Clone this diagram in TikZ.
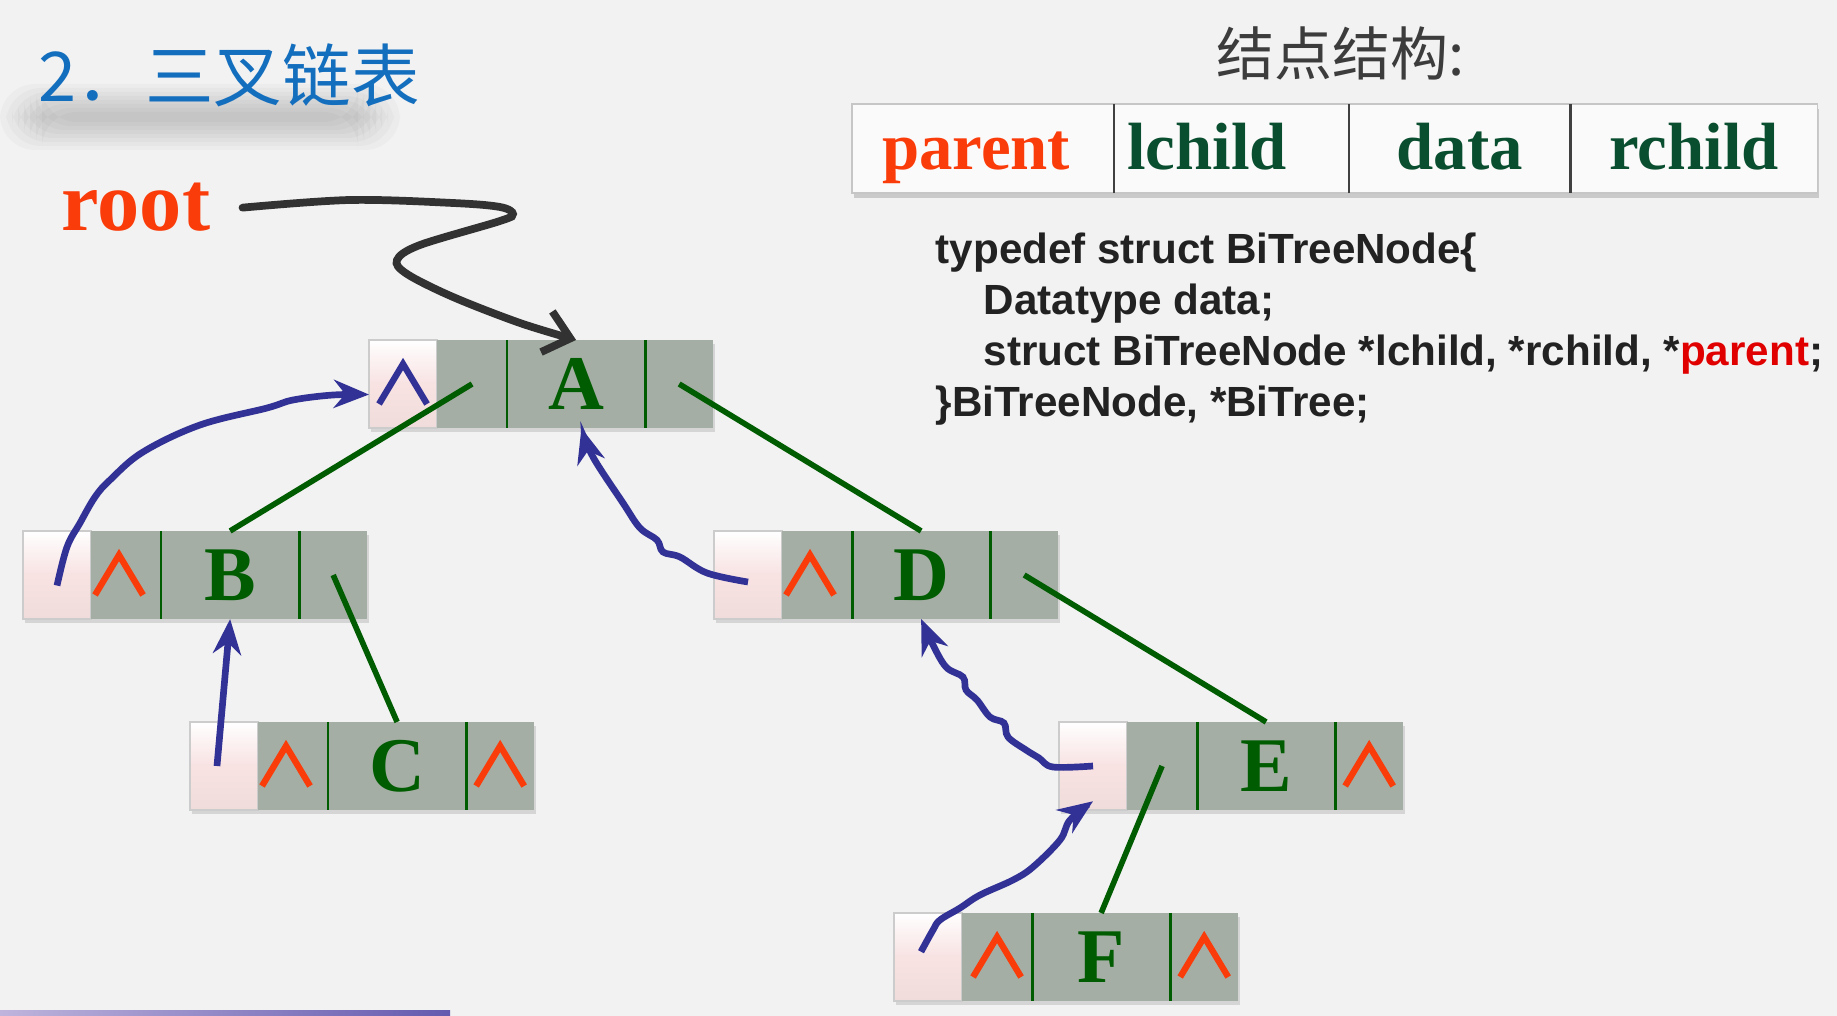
\documentclass[tikz,border=0pt]{standalone}
\usepackage{fontspec}
\newfontfamily\cjkfont{Noto Sans CJK SC}
\newfontfamily\timesfont{Liberation Serif}
\newfontfamily\arialfont{Liberation Sans}
\usetikzlibrary{positioning,arrows.meta,shadows}

\definecolor{bggray}{RGB}{242,242,242}
\definecolor{titleblue}{RGB}{20,110,190}
\definecolor{labelgray}{RGB}{60,60,60}
\definecolor{accent}{RGB}{250,60,10}
\definecolor{treegreen}{RGB}{0,92,0}
\definecolor{hdrgreen}{RGB}{10,78,48}
\definecolor{graybox}{RGB}{164,174,164}
\definecolor{pinkbox}{RGB}{248,226,226}
\definecolor{hdrwhite}{RGB}{250,250,250}
\definecolor{arrowblue}{RGB}{50,50,150}
\definecolor{rootgray}{RGB}{50,50,50}
\definecolor{codegray}{RGB}{34,34,34}
\definecolor{codered}{RGB}{225,0,0}

\tikzset{
  cell/.style={rectangle, inner sep=0pt, outer sep=0pt, minimum height=0.88cm},
  parcell/.style={cell, minimum width=0.68cm, draw=gray!40, line width=0.4pt,
    top color=white, bottom color=pinkbox!94!gray, middle color=pinkbox},
  ptrcell/.style={cell, minimum width=0.70cm, fill=graybox},
  datcell/.style={cell, minimum width=1.38cm, fill=graybox, text=treegreen,
    font=\timesfont\bfseries\fontsize{22}{22}\selectfont},
  rptrcell/.style={cell, minimum width=0.68cm, fill=graybox},
  divider/.style={draw=treegreen, line width=0.8pt},
  treeline/.style={draw=treegreen, line width=1.6pt},
  parentarrow/.style={draw=arrowblue, line width=1.9pt, -{Stealth[length=10pt,width=8pt]}},
  rootarrow/.style={draw=rootgray, line width=2.2pt, line cap=round,
    -{Straight Barb[length=7pt,width=12pt]}},
  hdrcell/.style={cell, minimum height=0.89cm, fill=hdrwhite,
    font=\timesfont\bfseries\fontsize{19}{19}\selectfont, text height=16.2pt, text depth=4pt},
  hdrline/.style={draw=black!75, line width=0.6pt},
  codeline/.style={anchor=base west, inner sep=0pt, text=codegray,
    font=\arialfont\bfseries\fontsize{12}{14}\selectfont},
  hat/.pic={\draw[line width=1.8pt] (-24,20) -- (0,-20) -- (24,20);}
}

\begin{document}
\begin{tikzpicture}[x=0.01cm, y=-0.01cm]
\useasboundingbox (0,0) rectangle (1837,1016);
\fill[bggray] (0,0) rectangle (1837,1016);
\shade[left color={rgb,255:red,190;green,180;blue,220}, right color={rgb,255:red,100;green,90;blue,175}]
  (0,1010) rectangle (450,1016);

% title and its soft shadow
\foreach \i in {0,...,7}
  \fill[black, opacity=0.022, rounded corners=10pt] (0+6*\i,84+4*\i) rectangle (400-6*\i,150-4*\i);
\node[anchor=base west, inner sep=0pt, text=titleblue, font=\cjkfont\fontsize{19.5}{19.5}\selectfont]
  (title) at (38,102) {2．三叉链表};
\node[anchor=base west, inner sep=0pt, text=accent, font=\timesfont\bfseries\fontsize{24}{24}\selectfont]
  (root) at (61,231) {root};

% node layout
\node[anchor=base west, inner sep=0pt, text=labelgray, font=\cjkfont\fontsize{16.5}{16.5}\selectfont]
  (structlbl) at (1216,76) {结点结构:};
\fill[hdrwhite, drop shadow={opacity=0.35, shadow xshift=0.5pt, shadow yshift=-1.5pt}]
  (852,104) rectangle (1817,193);
\node[hdrcell, minimum width=2.62cm, anchor=west, text=accent] (hp) at (852,148.5) {parent\kern4pt};
\node[hdrcell, minimum width=2.35cm, right=0pt of hp, text=hdrgreen] (hl) {lchild\kern14pt};
\node[hdrcell, minimum width=2.21cm, right=0pt of hl, text=hdrgreen] (hd) {data};
\node[hdrcell, minimum width=2.47cm, right=0pt of hd, text=hdrgreen] (hr) {rchild};
\draw[gray!45, line width=0.4pt] (hp.north west) rectangle (hr.south east);
\draw[hdrline] (hp.north east) -- (hp.south east) (hl.north east) -- (hl.south east)
  (hd.north east) -- (hd.south east);

\node[codeline] (code1) at (935,264) {typedef struct BiTreeNode\{};
\node[codeline] (code2) at (983,315) {Datatype data;};
\node[codeline] (code3) at (983,366) {struct BiTreeNode *lchild, *rchild, *\textcolor{codered}{parent};};
\node[codeline] (code4) at (935,417) {\}BiTreeNode, *BiTree;};

% tree nodes
\foreach \n/\x/\y in {A/369/384, B/23/575, C/190/766, D/714/575, E/1059/766, F/894/957} {
  \fill[graybox, drop shadow={opacity=0.25, shadow xshift=0.6pt, shadow yshift=-1.2pt}]
    (\x,\y-44) rectangle (\x+344,\y+44);
  \node[parcell, anchor=west] (\n p) at (\x,\y) {};
  \node[ptrcell, right=0pt of \n p] (\n l) {};
  \node[datcell, right=0pt of \n l] (\n d) {\n};
  \node[rptrcell, right=0pt of \n d] (\n r) {};
  \draw[divider] (\n d.north west) -- (\n d.south west) (\n d.north east) -- (\n d.south east);
}

\foreach \c in {Bl, Cl, Dl}
  \pic[accent] at ([xshift=-2pt]\c) {hat};
\foreach \c in {Cr, Er, Fl, Fr}
  \pic[accent] at (\c) {hat};
\pic[arrowblue] at (Ap) {hat};

\draw[treeline] (Al.center) -- (Bd.north);
\draw[treeline] (Ar.center) -- (Dd.north);
\draw[treeline] (Br.center) -- (Cd.north);
\draw[treeline] (Dr.center) -- (Ed.north);
\draw[treeline] (El.center) -- (Fd.north);

\draw[parentarrow] plot[smooth, tension=0.6] coordinates {([yshift=-3pt]Bp.center) (67,547) (80,523)
  (95,497) (110,480) (143,452) (200,425) (267,408) (293,400) (333,395) ([yshift=-3pt]Ap.west)};
\draw[parentarrow] ([xshift=-2pt]Cp.center) -- (Bd.south);
\draw[parentarrow] plot[smooth, tension=0.6] coordinates {([yshift=-2pt]Dp.center) (707,573) (680,557)
  (663,552) (657,540) (640,528) (623,503) (593,457) ([xshift=1.5pt]Ad.south)};
\draw[parentarrow] plot[smooth, tension=0.6] coordinates {(Ep.center) (1053,767) (1039,758) (1026,750)
  (1008,737) (1004,723) (990,717) (977,700) (966,690) (963,677) (946,667) (932,643) (Dd.south)};
\draw[parentarrow] plot[smooth, tension=0.6] coordinates {([xshift=-2pt,yshift=1.5pt]Fp.center) (933,930)
  (940,920) (960,908) (980,895) (1013,880) (1033,867) (1060,840) (1070,820) ([yshift=2.5pt]Ep.south)};

\draw[rootarrow] plot[smooth, tension=0.55] coordinates {([xshift=9pt]root.east) (350,200) (453,203)
  (500,207) (513,214) (500,221) (420,245) (397,260) (407,274) (453,297) (520,323) (Ad.north)};
\end{tikzpicture}
\end{document}
